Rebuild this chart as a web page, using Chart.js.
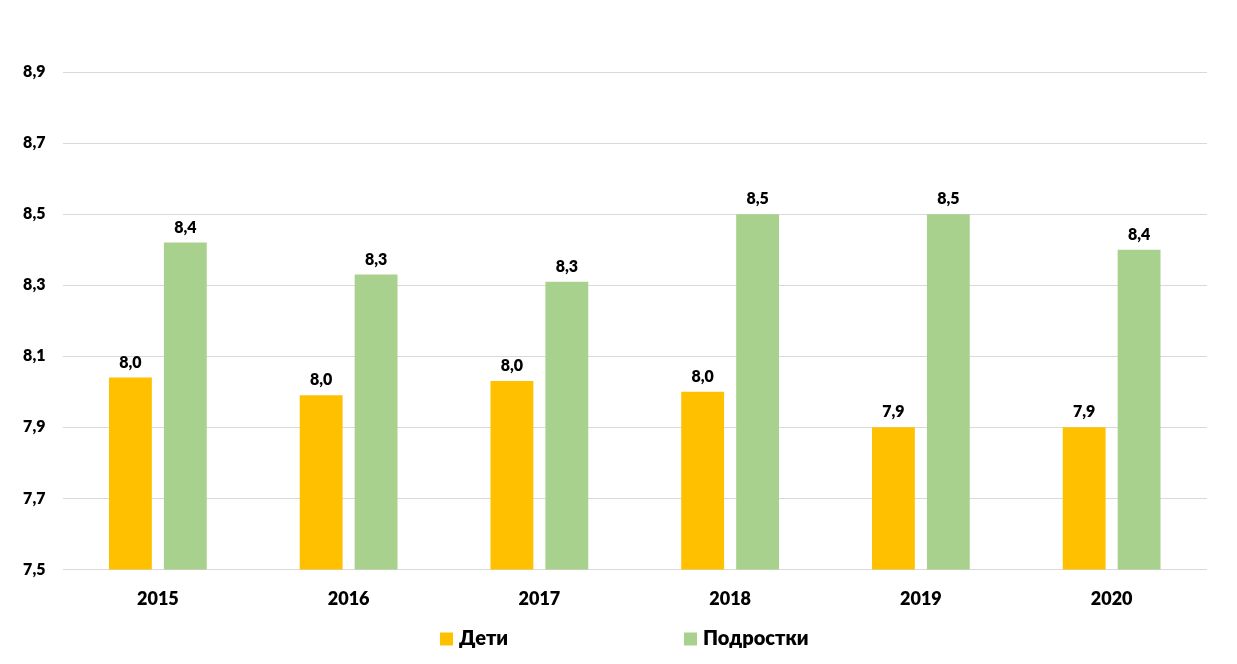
<!DOCTYPE html>
<html>
<head>
<meta charset="utf-8">
<script src="https://cdn.jsdelivr.net/npm/chart.js@4.4.0/dist/chart.umd.min.js"></script>
<style>
  html, body { margin: 0; padding: 0; background: #fff; }
  #wrap { width: 1237px; height: 664px; }
</style>
</head>
<body>
<div id="wrap"><canvas id="c"></canvas></div>
<script>
const categories = ['2015', '2016', '2017', '2018', '2019', '2020'];
const seriesNames = ['Дети', 'Подростки'];
const childrenValues = [8.04, 7.99, 8.03, 8.00, 7.90, 7.90];
const teenValues = [8.42, 8.33, 8.31, 8.50, 8.50, 8.40];
const yTickValues = [7.5, 7.7, 7.9, 8.1, 8.3, 8.5, 8.7, 8.9];

const FONT = 'Lato, "Open Sans", "Noto Sans", sans-serif';
const W = 800;
const fmt = v => v.toFixed(1).replace('.', ',');

const valueLabels = {
  id: 'valueLabels',
  afterDatasetsDraw(chart) {
    const ctx = chart.ctx;
    ctx.save();
    ctx.font = W + ' 16px ' + FONT;
    ctx.fillStyle = '#000';
    ctx.textAlign = 'center';
    ctx.textBaseline = 'alphabetic';
    chart.data.datasets.forEach((ds, di) => {
      chart.getDatasetMeta(di).data.forEach((bar, i) => {
        ctx.fillText(fmt(ds.data[i]), bar.x, bar.y - 10);
      });
    });
    ctx.restore();
  }
};

const customLegend = {
  id: 'customLegend',
  afterDraw(chart) {
    const ctx = chart.ctx;
    ctx.save();
    ctx.font = W + ' 20px ' + FONT;
    ctx.textBaseline = 'middle';
    ctx.textAlign = 'left';
    const y = 639;
    const startX = chart.width / 2 - 178.5;
    chart.data.datasets.forEach((ds, i) => {
      const x = startX + i * 244;
      ctx.fillStyle = ds.backgroundColor;
      ctx.fillRect(x, y - 6.5, 13, 13);
      ctx.fillStyle = '#000';
      ctx.fillText(ds.label, x + 19, y);
    });
    ctx.restore();
  }
};

new Chart(document.getElementById('c'), {
  type: 'bar',
  data: {
    labels: categories,
    datasets: [
      { label: seriesNames[0], data: childrenValues, backgroundColor: '#FFC000' },
      { label: seriesNames[1], data: teenValues, backgroundColor: '#A9D18E' }
    ]
  },
  options: {
    responsive: true,
    maintainAspectRatio: false,
    animation: false,
    datasets: { bar: { categoryPercentage: 0.576, barPercentage: 0.78 } },
    layout: { padding: { left: 0, right: 30, top: 36.5, bottom: 35 } },
    plugins: {
      legend: { display: false },
      tooltip: { enabled: false }
    },
    scales: {
      x: {
        grid: { display: false, drawTicks: false },
        border: { display: false },
        ticks: { color: '#000', padding: 19, font: { family: FONT, size: 18, weight: W } }
      },
      y: {
        min: 7.5,
        max: 9.0,
        afterBuildTicks(scale) { scale.ticks = yTickValues.map(v => ({ value: v })); },
        afterFit(scale) { scale.width = 62.5; },
        grid: { color: '#D9D9D9', lineWidth: 1, drawTicks: false },
        border: { display: false },
        ticks: {
          color: '#000', padding: 17,
          font: { family: FONT, size: 16, weight: W },
          callback: v => fmt(v)
        }
      }
    }
  },
  plugins: [valueLabels, customLegend]
});
</script>
</body>
</html>
